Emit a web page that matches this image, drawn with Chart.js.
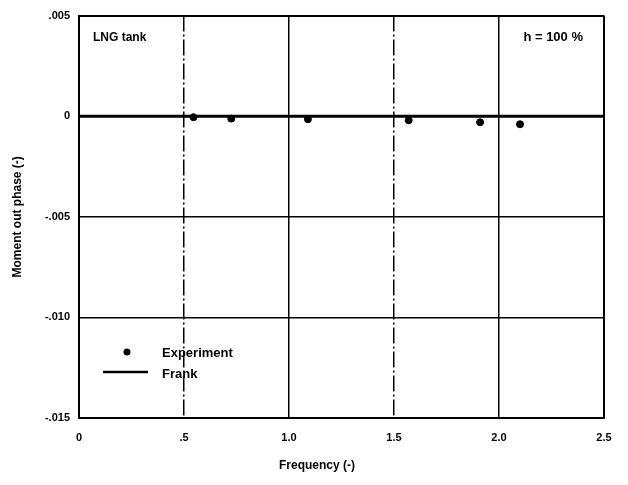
<!DOCTYPE html>
<html lang="en">
<head>
<meta charset="UTF-8">
<title>LNG tank - Moment out phase</title>
<script src="https://cdn.jsdelivr.net/npm/chart.js"></script>
<style>
  html, body { margin: 0; padding: 0; background: #fff; }
  #containerCanvas { width: 628px; height: 485px; }
</style>
</head>
<body>
<div id="containerCanvas">
  <canvas id="myChart" width="628" height="485"></canvas>
</div>
<script>
// dados
var freqExperiment = [0.545, 0.725, 1.09, 1.57, 1.91, 2.10];
var momentExperiment = [-0.00005, -0.00012, -0.00015, -0.0002, -0.0003, -0.0004];
var freqFrank = [0, 2.5];
var momentFrank = [0, 0];
var xTickLabels = ['0', '.5', '1.0', '1.5', '2.0', '2.5'];
var yTickLabels = ['-.015', '-.010', '-.005', '0', '.005'];

var fonte = '"Liberation Sans", Arial, sans-serif';

function pares(xs, ys) {
  var out = [];
  for (var i = 0; i < xs.length; i++) out.push({ x: xs[i], y: ys[i] });
  return out;
}

// textos, legenda e títulos dos eixos
var textos = {
  id: 'textos',
  afterDraw: function (chart) {
    var ctx = chart.ctx;
    var area = chart.chartArea;
    var ds = chart.data.datasets;
    ctx.save();
    ctx.fillStyle = '#000';
    ctx.textBaseline = 'middle';
    ctx.font = 'bold 12px ' + fonte;
    ctx.textAlign = 'left';
    ctx.fillText('LNG tank', area.left + 14, area.top + 22);
    ctx.font = 'bold 13px ' + fonte;
    ctx.textAlign = 'right';
    ctx.fillText('h = 100 %', area.right - 21, area.top + 22);

    // legenda
    ctx.textAlign = 'left';
    ctx.beginPath();
    ctx.arc(127, 352, 3.5, 0, Math.PI * 2);
    ctx.fill();
    ctx.fillText(ds[0].label, 162, 353);
    ctx.lineWidth = 2.5;
    ctx.strokeStyle = '#000';
    ctx.beginPath();
    ctx.moveTo(103, 372);
    ctx.lineTo(148, 372);
    ctx.stroke();
    ctx.fillText(ds[1].label, 162, 374);

    // títulos
    ctx.font = 'bold 12px ' + fonte;
    ctx.textAlign = 'center';
    ctx.fillText('Frequency (-)', 317, 466);
    ctx.translate(18, (area.top + area.bottom) / 2);
    ctx.rotate(-Math.PI / 2);
    ctx.fillText('Moment out phase (-)', 0, 0);
    ctx.restore();
  }
};

var config = {
  type: 'scatter',
  data: {
    datasets: [
      {
        label: 'Experiment',
        data: pares(freqExperiment, momentExperiment),
        backgroundColor: '#000',
        borderColor: '#000',
        pointRadius: 3.5,
        pointHoverRadius: 3.5,
        showLine: false,
        order: 0
      },
      {
        label: 'Frank',
        data: pares(freqFrank, momentFrank),
        borderColor: '#000',
        borderWidth: 3,
        pointRadius: 0,
        showLine: true,
        order: 1
      }
    ]
  },
  options: {
    responsive: false,
    animation: false,
    layout: { padding: { left: 0, top: 15, right: 24, bottom: 0 } },
    plugins: {
      legend: { display: false },
      tooltip: { enabled: false }
    },
    scales: {
      x: {
        type: 'linear',
        min: 0,
        max: 2.5,
        afterFit: function (scale) { scale.height = 67; },
        ticks: {
          stepSize: 0.5,
          padding: 13,
          color: '#000',
          font: { family: fonte, size: 11, weight: 'bold' },
          maxRotation: 0,
          callback: function (value, index) { return xTickLabels[index]; }
        },
        grid: {
          drawTicks: false,
          color: '#000',
          lineWidth: function (c) {
            if (!c.tick) return 1.5;
            return (c.index === 0 || c.index === xTickLabels.length - 1) ? 2 : 1.5;
          }
        },
        border: {
          color: '#000',
          width: 2,
          dash: function (c) {
            if (!c.tick) return [];
            return (c.index === 1 || c.index === 3) ? [16, 3, 2, 3] : [];
          }
        }
      },
      y: {
        type: 'linear',
        min: -0.015,
        max: 0.005,
        afterFit: function (scale) { scale.width = 79; },
        ticks: {
          stepSize: 0.005,
          padding: 9,
          color: '#000',
          font: { family: fonte, size: 11, weight: 'bold' },
          callback: function (value, index) { return yTickLabels[index]; }
        },
        grid: {
          drawTicks: false,
          color: '#000',
          lineWidth: function (c) {
            if (!c.tick) return 1.5;
            return (c.index === yTickLabels.length - 1) ? 2 : 1.5;
          }
        },
        border: { color: '#000', width: 2 }
      }
    }
  },
  plugins: [textos]
};

var myChart = new Chart(document.getElementById('myChart'), config);
</script>
</body>
</html>
